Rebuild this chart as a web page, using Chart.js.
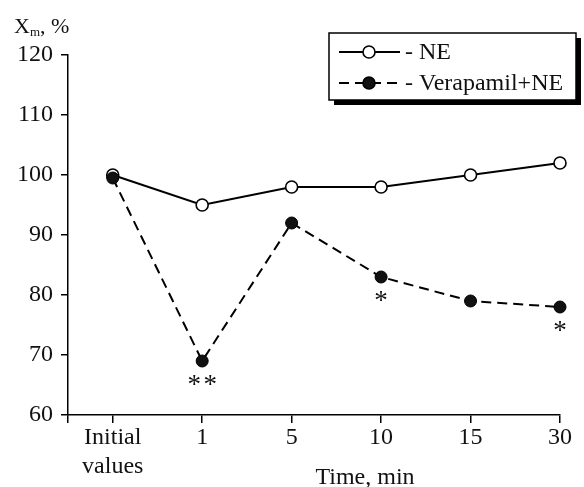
<!DOCTYPE html>
<html>
<head>
<meta charset="utf-8">
<script src="https://cdn.jsdelivr.net/npm/chart.js@4/dist/chart.umd.min.js"></script>
<style>
  html, body { margin: 0; padding: 0; background: #fff; }
  #wrap { width: 584px; height: 487px; position: relative; }
</style>
</head>
<body>
<div id="wrap"><canvas id="c" width="584" height="487"></canvas></div>
<script>
// ---- data ----
const categories = [['Initial', 'values'], '1', '5', '10', '15', '30'];
const neValues = [100, 95, 98, 98, 100, 102];
const verapamilValues = [99.5, 69, 92, 83, 79, 78];
const verapamilMarks = ['', '**', '', '*', '', '*'];
const seriesNames = ['- NE', '- Verapamil+NE'];
const yTicks = [60, 70, 80, 90, 100, 110, 120];
const xTitle = 'Time, min';

const FONT = '"Liberation Serif", "Times New Roman", serif';
const INK = '#111';

const xTickValues = [-0.5].concat(categories.map((c, i) => i));

function toPoints(vals) { return vals.map((v, i) => ({ x: i, y: v })); }

const decorPlugin = {
  id: 'decor',
  afterDatasetsDraw(chart) {
    const ctx = chart.ctx;
    const xs = chart.scales.x, ys = chart.scales.y;
    ctx.save();
    ctx.fillStyle = INK;
    ctx.font = '27px ' + FONT;
    ctx.textAlign = 'center';
    ctx.textBaseline = 'alphabetic';
    verapamilMarks.forEach((m, i) => {
      if (!m) return;
      const px = xs.getPixelForValue(i);
      const py = ys.getPixelForValue(verapamilValues[i]);
      const n = m.length;
      for (let k = 0; k < n; k++) {
        const cx = px + (k - (n - 1) / 2) * 16;
        ctx.fillText('*', cx, py + 32);
      }
    });
    ctx.restore();
  },
  afterDraw(chart) {
    const ctx = chart.ctx;
    ctx.save();
    // y axis title: X_m, %
    ctx.fillStyle = INK;
    ctx.textBaseline = 'alphabetic';
    ctx.textAlign = 'left';
    ctx.font = '22px ' + FONT;
    ctx.fillText('X', 14, 33);
    const wx = ctx.measureText('X').width;
    ctx.font = '13px ' + FONT;
    ctx.fillText('m', 14 + wx, 36);
    const wm = ctx.measureText('m').width;
    ctx.font = '22px ' + FONT;
    ctx.fillText(', %', 14 + wx + wm, 33);

    // x axis title
    ctx.font = '24px ' + FONT;
    ctx.textAlign = 'center';
    ctx.fillText(xTitle, 365, 484);

    // legend box with shadow
    const lx = 329, ly = 33, lw = 247, lh = 67;
    ctx.fillStyle = '#000';
    ctx.fillRect(lx + 5, ly + 5, lw, lh);
    ctx.fillStyle = '#fff';
    ctx.fillRect(lx, ly, lw, lh);
    ctx.strokeStyle = '#000';
    ctx.lineWidth = 1.5;
    ctx.strokeRect(lx, ly, lw, lh);

    const rows = [52, 83];
    chart.data.datasets.forEach((ds) => {
      const y = rows[ds.legendIndex];
      ctx.strokeStyle = '#000';
      ctx.lineWidth = 2;
      ctx.setLineDash(ds.borderDash || []);
      ctx.beginPath();
      ctx.moveTo(339, y);
      ctx.lineTo(400, y);
      ctx.stroke();
      ctx.setLineDash([]);
      ctx.lineWidth = 1.6;
      ctx.beginPath();
      ctx.arc(369, y, 6, 0, Math.PI * 2);
      ctx.fillStyle = ds.pointBackgroundColor;
      ctx.fill();
      ctx.stroke();
      ctx.fillStyle = INK;
      ctx.font = '24px ' + FONT;
      ctx.textAlign = 'left';
      ctx.textBaseline = 'middle';
      ctx.fillText(ds.label, 405, y + 1);
    });
    ctx.restore();
  }
};

new Chart(document.getElementById('c'), {
  type: 'line',
  data: {
    datasets: [
      {
        label: seriesNames[0],
        legendIndex: 0,
        data: toPoints(neValues),
        borderColor: '#000',
        borderWidth: 2,
        pointBackgroundColor: '#fff',
        pointBorderColor: '#000',
        pointBorderWidth: 1.6,
        pointRadius: 6,
        pointHoverRadius: 6,
        tension: 0,
        clip: false,
        order: 1
      },
      {
        label: seriesNames[1],
        legendIndex: 1,
        data: toPoints(verapamilValues),
        borderColor: '#000',
        borderWidth: 2,
        borderDash: [10, 6],
        pointBackgroundColor: '#111',
        pointBorderColor: '#000',
        pointBorderWidth: 1,
        pointRadius: 6,
        pointHoverRadius: 6,
        tension: 0,
        clip: false,
        order: 0
      }
    ]
  },
  options: {
    responsive: false,
    animation: false,
    events: [],
    layout: { padding: { left: 0, right: 24, top: 55, bottom: 0 } },
    plugins: { legend: { display: false }, tooltip: { enabled: false } },
    scales: {
      x: {
        type: 'linear',
        min: -0.5,
        max: categories.length - 1,
        afterBuildTicks(scale) { scale.ticks = xTickValues.map(v => ({ value: v })); },
        afterFit(scale) { scale.height = 72; },
        ticks: {
          autoSkip: false,
          maxRotation: 0,
          minRotation: 0,
          padding: 0,
          color: INK,
          font: { family: FONT, size: 24, lineHeight: 1.22 },
          callback(v) {
            if (v < 0) return '';
            return categories[v];
          }
        },
        grid: { drawOnChartArea: false, drawTicks: true, tickLength: 8, color: '#000', lineWidth: 1.5 },
        border: { display: true, color: '#000', width: 1.5 }
      },
      y: {
        min: yTicks[0],
        max: yTicks[yTicks.length - 1],
        afterBuildTicks(scale) { scale.ticks = yTicks.map(v => ({ value: v })); },
        afterFit(scale) { scale.width = 68; },
        ticks: {
          padding: 8,
          color: INK,
          font: { family: FONT, size: 24 }
        },
        grid: { drawOnChartArea: false, drawTicks: true, tickLength: 7, color: '#000', lineWidth: 1.5 },
        border: { display: true, color: '#000', width: 1.5 }
      }
    }
  },
  plugins: [decorPlugin]
});
</script>
</body>
</html>
